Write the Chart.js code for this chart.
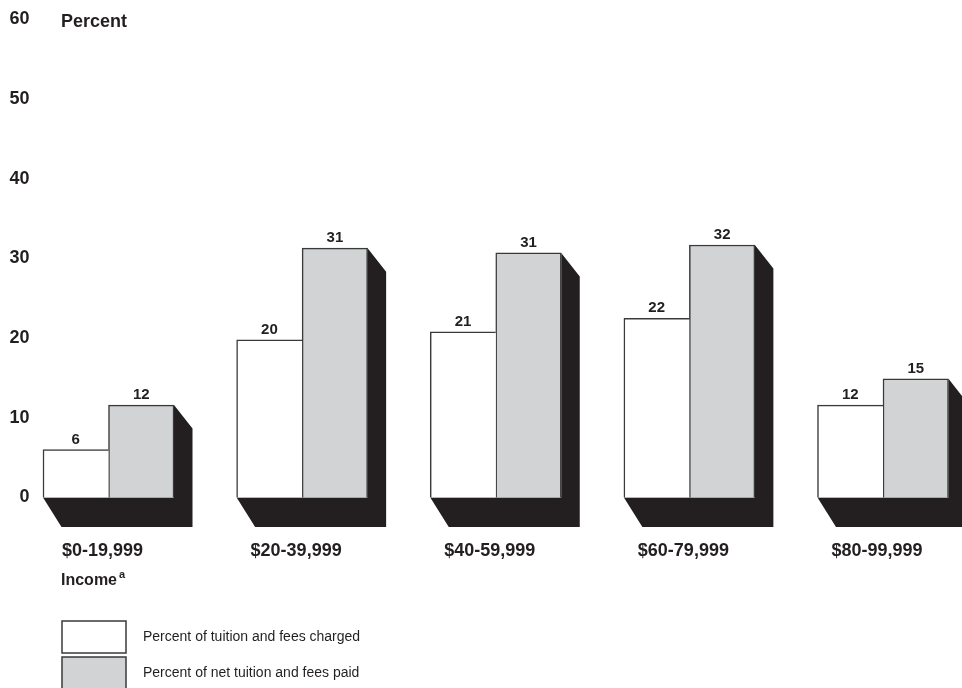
<!DOCTYPE html>
<html>
<head>
<meta charset="utf-8">
<script src="https://cdn.jsdelivr.net/npm/chart.js@4.4.0/dist/chart.umd.min.js"></script>
<style>
  html, body { margin: 0; padding: 0; background: #fff; }
  #wrap { position: relative; width: 962px; height: 688px; overflow: hidden; }
</style>
</head>
<body>
<div id="wrap"><canvas id="chart_tuition" width="962" height="688"></canvas></div>
<script>
const incomeLabels = ['$0-19,999', '$20-39,999', '$40-59,999', '$60-79,999', '$80-99,999'];
const chargedValues = [6.0, 19.8, 20.8, 22.5, 11.6];
const paidValues = [11.6, 31.3, 30.7, 31.7, 14.9];
const chargedText = ['6', '20', '21', '22', '12'];
const paidText = ['12', '31', '31', '32', '15'];
const yTicks = [0, 10, 20, 30, 40, 50, 60];

const ink = '#231f20';
const edge = '#3a3a3a';
const font = '"Liberation Sans", Arial, Helvetica, sans-serif';

// black "extrusion" behind each pair of bars
const shadowPlugin = {
    id: 'shadow',
    beforeDatasetsDraw(chart) {
        const ctx = chart.ctx;
        const base = chart.scales.y.getPixelForValue(0);
        const a = chart.getDatasetMeta(0).data;
        const b = chart.getDatasetMeta(1).data;
        ctx.save();
        ctx.fillStyle = ink;
        a.forEach((bar, i) => {
            const x0 = bar.x - bar.width / 2;
            const x1 = b[i].x + b[i].width / 2;
            const top = Math.min(bar.y, b[i].y);
            ctx.beginPath();
            ctx.moveTo(x0, base);
            ctx.lineTo(x0 + 18.5, base + 29.5);
            ctx.lineTo(x1 + 18.5, base + 29.5);
            ctx.lineTo(x1 + 18.5, top + 23.5);
            ctx.lineTo(x1, top);
            ctx.lineTo(x1, base);
            ctx.closePath();
            ctx.fill();
        });
        ctx.restore();
    }
};

// value labels, titles and legend
const textPlugin = {
    id: 'texts',
    afterDatasetsDraw(chart) {
        const ctx = chart.ctx;
        ctx.save();
        ctx.fillStyle = ink;
        ctx.font = 'bold 15px ' + font;
        ctx.textAlign = 'center';
        ctx.textBaseline = 'alphabetic';
        [chargedText, paidText].forEach((txt, d) => {
            chart.getDatasetMeta(d).data.forEach((bar, i) => {
                ctx.fillText(txt[i], bar.x, bar.y - 6);
            });
        });
        ctx.restore();
    },
    afterDraw(chart) {
        const ctx = chart.ctx;
        ctx.save();
        ctx.fillStyle = ink;
        ctx.textAlign = 'left';
        ctx.textBaseline = 'alphabetic';
        ctx.font = 'bold 18px ' + font;
        ctx.fillText('Percent', 61, 26.5);
        ctx.font = 'bold 16px ' + font;
        ctx.fillText('Income', 61, 585);
        const w = ctx.measureText('Income').width;
        ctx.font = 'bold 11px ' + font;
        ctx.fillText('a', 61 + w + 2, 577.5);

        // legend
        chart.data.datasets.forEach((d, i) => {
            const y = 621 + i * 36;
            ctx.fillStyle = d.backgroundColor;
            ctx.fillRect(62, y, 64, 32);
            ctx.strokeStyle = edge;
            ctx.lineWidth = 1.5;
            ctx.strokeRect(62, y, 64, 32);
            ctx.fillStyle = ink;
            ctx.font = '14px ' + font;
            ctx.textBaseline = 'middle';
            ctx.fillText(d.label, 143, y + 16);
        });
        ctx.restore();
    }
};

const ctxTuition = document.getElementById('chart_tuition');
const tuitionChart = new Chart(ctxTuition, {
    type: 'bar',
    data: {
        labels: incomeLabels,
        datasets: [{
            label: 'Percent of tuition and fees charged',
            data: chargedValues,
            backgroundColor: '#ffffff',
            borderColor: edge,
            borderWidth: { top: 1.5, left: 1.5, right: 0, bottom: 0 },
            borderSkipped: false,
            barThickness: 65.5,
            clip: false
        }, {
            label: 'Percent of net tuition and fees paid',
            data: paidValues,
            backgroundColor: '#d1d3d4',
            borderColor: edge,
            borderWidth: { top: 1.5, left: 1.5, right: 1.5, bottom: 0 },
            borderSkipped: false,
            barThickness: 65.5,
            clip: false
        }]
    },
    plugins: [shadowPlugin, textPlugin],
    options: {
        responsive: false,
        animation: false,
        layout: { padding: { top: 19.5, left: 0, right: 79, bottom: 0 } },
        plugins: {
            legend: { display: false },
            tooltip: { enabled: false }
        },
        scales: {
            x: {
                offset: false,
                grid: { display: false, drawTicks: false },
                border: { display: false },
                ticks: {
                    color: ink,
                    padding: 43,
                    labelOffset: -6,
                    maxRotation: 0,
                    autoSkip: false,
                    font: { family: font, size: 18, weight: 'bold' }
                },
                afterFit(scale) {
                    scale.height = 190.5;
                    scale.paddingLeft = 0;
                    scale.paddingRight = 0;
                }
            },
            y: {
                min: 0,
                max: 60,
                afterBuildTicks(scale) { scale.ticks = yTicks.map(v => ({ value: v })); },
                grid: { display: false, drawTicks: false },
                border: { display: false },
                ticks: {
                    color: ink,
                    padding: 79,
                    font: { family: font, size: 18, weight: 'bold' }
                },
                afterFit(scale) {
                    scale.width = 108.5;
                    scale.paddingTop = 0;
                    scale.paddingBottom = 0;
                }
            }
        }
    }
});
</script>
</body>
</html>
